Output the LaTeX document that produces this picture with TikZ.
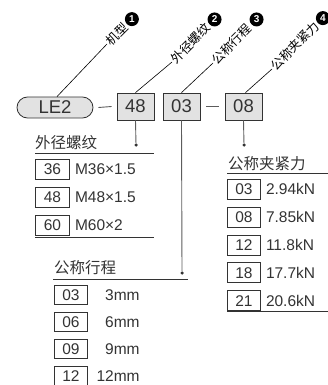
\documentclass[tikz,border=0pt]{standalone}
\usepackage{fontspec}
\setmainfont{Liberation Sans}
\newfontfamily\cjk{Noto Sans CJK SC}
\usetikzlibrary{positioning}

\definecolor{ink}{HTML}{333333}
\definecolor{boxgray}{HTML}{E2E2E2}

\begin{document}
\begin{tikzpicture}[
			x=1pt,y=-1pt,
			every node/.style={text=ink},
			code/.style={
					draw=ink,
					fill=boxgray,
					line width=0.8pt,
					inner sep=0pt,
					minimum width=37pt,
					minimum height=27pt,
					font=\fontsize{18.5}{20}\selectfont
				},
			model/.style={
					code,
					rounded corners=10.5pt,
					minimum width=76pt,
					minimum height=21pt
				},
			cell/.style={
					draw=ink,
					line width=0.8pt,
					inner sep=0pt,
					minimum width=34pt,
					minimum height=20pt,
					font=\fontsize{15.5}{17}\selectfont
				},
			val/.style={inner sep=0pt,font=\fontsize{15.5}{17}\selectfont},
			title/.style={inner sep=0pt,font=\cjk\fontsize{15.5}{17}\selectfont},
			tag/.style={rotate=45,anchor=west,inner sep=1pt,text=black,font=\cjk\fontsize{12.5}{13}\selectfont},
			num/.style={circle,fill=black,text=white,inner sep=0pt,minimum size=14pt,font=\bfseries\fontsize{10}{10}\selectfont},
			dot/.style={circle,fill=ink,inner sep=0pt,minimum size=3.5pt},
			stem/.style={draw=ink!80,line width=0.9pt},
			rule/.style={draw=ink,line width=1pt},
			lead/.style={draw=black,line width=0.6pt}
		]
		\useasboundingbox (0,0) rectangle (328,385);

		% code row
		\node[model] (le2) at (55,107.5) {LE2};
		\node[code] (box48) at (135.5,106.5) {48};
		\node[code] (box03) at (181.5,106.5) {03};
		\node[code] (box08) at (243.5,106.5) {08};

		\draw[stem] ([xshift=5pt]le2.east) -- ([xshift=-5pt]box48.west);
		\draw[stem] ([xshift=6pt]box03.east) -- ([xshift=-6pt]box08.west);

		% leaders
		\coordinate (l1) at (107,44);
		\coordinate (l2) at (172,62);
		\coordinate (l3) at (213,63);
		\coordinate (l4) at (272,69);

		\draw[lead] ([xshift=2pt]le2.north) -- (l1);
		\draw[lead] (box48.north) -- (l2);
		\draw[lead] (box03.north) -- (l3);
		\draw[lead] ([xshift=2pt]box08.north) -- (l4);

		\node[tag] (t1) at (l1) {机型};
		\node[tag] (t2) at (l2) {外径螺纹};
		\node[tag] (t3) at (l3) {公称行程};
		\node[tag] (t4) at (l4) {公称夹紧力};

		\node[num] (n1) at ([shift={(5.5,-5.5)}]t1.east) {1};
		\node[num] (n2) at ([shift={(5.5,-5.5)}]t2.east) {2};
		\node[num] (n3) at ([shift={(6.5,-6.5)}]t3.east) {3};
		\node[num] (n4) at ([shift={(5,-5)}]t4.east) {4};

		% thread
		\node[dot] (dotA) at (136,145) {};
		\draw[stem] (box48.south) -- (dotA);
		\node[title,anchor=west] (hThread) at (35,143) {外径螺纹};
		\draw[rule] (35,153.3) -- (154,153.3);

		\node[cell,anchor=north west] (d36) at (35,159) {36};
		\node[cell,below=7pt of d36] (d48) {48};
		\node[cell,below=7pt of d48] (d60) {60};
		\node[val,right=5pt of d36] {M36×1.5};
		\node[val,right=5pt of d48] {M48×1.5};
		\node[val,right=5pt of d60] {M60×2};
		\draw[rule] (35,237.5) -- (154,237.5);

		% clamping force
		\node[dot] (dotC) at (244,145) {};
		\draw[stem] (box08.south) -- (dotC);
		\node[title,anchor=west] (hForce) at (228,164) {公称夹紧力};
		\draw[rule] (227,173.3) -- (328,173.3);

		\node[cell,anchor=north west,minimum width=33pt] (f03) at (227,179) {03};
		\node[cell,minimum width=33pt,below=7pt of f03] (f08) {08};
		\node[cell,minimum width=33pt,below=7pt of f08] (f12) {12};
		\node[cell,minimum width=33pt,below=7pt of f12] (f18) {18};
		\node[cell,minimum width=33pt,below=7pt of f18] (f21) {21};
		\node[val,right=5pt of f03] {2.94kN};
		\node[val,right=5pt of f08] {7.85kN};
		\node[val,right=5pt of f12] {11.8kN};
		\node[val,right=5pt of f18] {17.7kN};
		\node[val,right=5pt of f21] {20.6kN};
		\draw[rule] (227,311) -- (328,311);

		% stroke
		\node[dot] (dotB) at (182,273) {};
		\draw[stem] (box03.south) -- (dotB);
		\node[title,anchor=west] (hStroke) at (54,268) {公称行程};
		\draw[rule] (53,279.3) -- (188,279.3);

		\node[cell,anchor=north west,minimum width=33pt,minimum height=19pt] (s03) at (54,285) {03};
		\node[cell,minimum width=33pt,minimum height=19pt,below=7.3pt of s03] (s06) {06};
		\node[cell,minimum width=33pt,minimum height=19pt,below=7.3pt of s06] (s09) {09};
		\node[cell,minimum width=33pt,minimum height=19pt,below=7.3pt of s09] (s12) {12};
		\node[val,anchor=east] at ([xshift=52pt]s03.east) {3mm};
		\node[val,anchor=east] at ([xshift=52pt]s06.east) {6mm};
		\node[val,anchor=east] at ([xshift=52pt]s09.east) {9mm};
		\node[val,anchor=east] at ([xshift=52pt]s12.east) {12mm};

	\end{tikzpicture}
\end{document}
